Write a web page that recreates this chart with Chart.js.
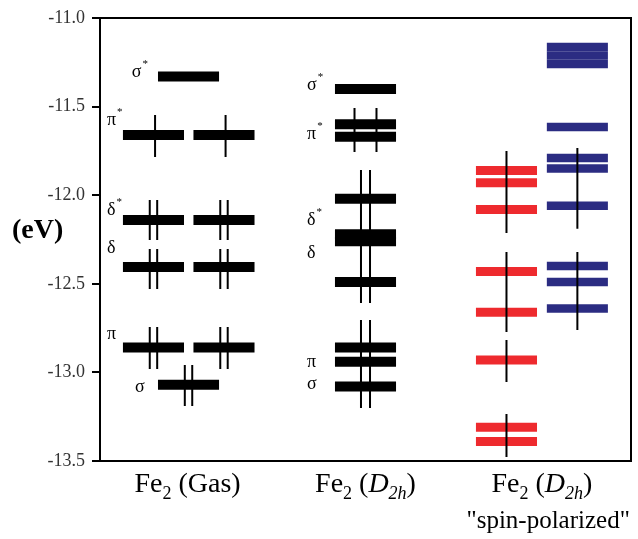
<!DOCTYPE html>
<html>
<head>
<meta charset="utf-8">
<script src="https://cdn.jsdelivr.net/npm/chart.js@4.4.0/dist/chart.umd.min.js"></script>
<style>
  html, body { margin: 0; padding: 0; background: #fff; }
  #wrap { width: 638px; height: 539px; }
</style>
</head>
<body>
<div id="wrap"><canvas id="mo" width="638" height="539"></canvas></div>
<script>
// energy axis (eV)
const yTicks = [-13.5, -13.0, -12.5, -12.0, -11.5, -11.0];

// Fe2 (Gas): levels, whether drawn as a degenerate pair, labels
const gasLevels = [-11.33, -11.66, -12.14, -12.405, -12.86, -13.07];
const gasPaired = [false, true, true, true, true, false];
const gasLabels = ['σ', 'π', 'δ', 'δ', 'π', 'σ'];
const gasStars = [true, true, true, false, false, false];
const gasLabelE = [-11.305, -11.576, -12.083, -12.298, -12.783, -13.082];
// electrons per bar and extent of the spin lines
const gasElectrons = [0, 1, 2, 2, 2, 2];
const gasSpinTop = [null, -11.547, -12.027, -12.304, -12.744, -12.958];
const gasSpinBottom = [null, -11.784, -12.253, -12.529, -12.981, -13.19];

// Fe2 (D2h)
const d2hLevels = [-11.40, -11.60, -11.67, -12.02, -12.22, -12.26, -12.49, -12.86, -12.94, -13.08];
const d2hLabels = ['σ', 'π', 'δ', 'δ', 'π', 'σ'];
const d2hStars = [true, true, true, false, false, false];
const d2hLabelE = [-11.378, -11.655, -12.14, -12.326, -12.94, -13.065];
const d2hSpinTop = [-11.508, -11.858, -12.704];
const d2hSpinBottom = [-11.756, -12.608, -13.201];
const d2hUnpaired = [true, false, false];

// Fe2 (D2h) spin-polarized: alpha (red) and beta (blue)
const alphaLevels = [-11.86, -11.93, -12.08, -12.43, -12.66, -12.93, -13.31, -13.39];
const betaLevels = [-11.164, -11.212, -11.26, -11.615, -11.79, -11.85, -12.06, -12.40, -12.49, -12.64];
const alphaSpinTop = [-11.75, -12.32, -12.817, -13.235];
const alphaSpinBottom = [-12.213, -12.772, -13.054, -13.477];
const betaSpinTop = [-11.734, -12.32];
const betaSpinBottom = [-12.19, -12.761];

// layout (x axis runs 0..10, hidden)
const HALF = 0.575;
const gasX = [1.007, 2.335];
const gasMid = 1.667;
const d2hX = 5.0;
const alphaX = 7.655;
const betaX = 8.99;
const DBL = 0.07;
const RED = '#ee2a2e';
const BLUE = '#2b2c82';
const SERIF = '"Liberation Serif", "Times New Roman", serif';

function bar(x, e, color, w) {
    return {
        data: [{x: x - HALF, y: e}, {x: x + HALF, y: e}],
        borderColor: color, borderWidth: w, borderCapStyle: 'butt',
        pointRadius: 0, order: 2
    };
}

function spin(x, top, bottom) {
    return {
        data: [{x: x, y: top}, {x: x, y: bottom}],
        borderColor: '#000', borderWidth: 2, borderCapStyle: 'butt',
        pointRadius: 0, order: 1
    };
}

const datasets = [];

gasLevels.forEach((e, i) => {
    const xs = gasPaired[i] ? gasX : [gasMid];
    xs.forEach(x => {
        datasets.push(bar(x, e, '#000', 10));
        if (gasElectrons[i] === 1) {
            datasets.push(spin(x + 0.03, gasSpinTop[i], gasSpinBottom[i]));
        } else if (gasElectrons[i] === 2) {
            datasets.push(spin(x - DBL, gasSpinTop[i], gasSpinBottom[i]));
            datasets.push(spin(x + DBL, gasSpinTop[i], gasSpinBottom[i]));
        }
    });
});

d2hLevels.forEach(e => datasets.push(bar(d2hX, e, '#000', 10)));
d2hSpinTop.forEach((t, i) => {
    const off = d2hUnpaired[i] ? 0.207 : 0.085;
    datasets.push(spin(d2hX - off, t, d2hSpinBottom[i]));
    datasets.push(spin(d2hX + off, t, d2hSpinBottom[i]));
});

alphaLevels.forEach(e => datasets.push(bar(alphaX, e, RED, 9)));
betaLevels.forEach(e => datasets.push(bar(betaX, e, BLUE, 8.5)));
alphaSpinTop.forEach((t, i) => datasets.push(spin(alphaX, t, alphaSpinBottom[i])));
betaSpinTop.forEach((t, i) => datasets.push(spin(betaX, t, betaSpinBottom[i])));

// text: orbital labels, column titles, unit, frame
const textPlugin = {
    id: 'moText',
    afterDatasetsDraw(chart) {
        const {ctx, chartArea: a, scales: {x, y}} = chart;
        ctx.save();

        ctx.strokeStyle = '#000';
        ctx.lineWidth = 2;
        ctx.strokeRect(a.left, a.top, a.right - a.left, a.bottom - a.top);

        ctx.fillStyle = '#000';
        ctx.textBaseline = 'middle';
        ctx.textAlign = 'left';

        function greek(sym, star, px, py) {
            ctx.font = '18px ' + SERIF;
            ctx.fillText(sym, px, py);
            if (star) {
                const w = ctx.measureText(sym).width;
                ctx.font = '11px ' + SERIF;
                ctx.fillText('*', px + w + 1, py - 8);
            }
        }
        const gasLabelX = [0.60, 0.13, 0.13, 0.13, 0.13, 0.66];
        gasLabels.forEach((s, i) => greek(s, gasStars[i], x.getPixelForValue(gasLabelX[i]), y.getPixelForValue(gasLabelE[i])));
        d2hLabels.forEach((s, i) => greek(s, d2hStars[i], x.getPixelForValue(3.9), y.getPixelForValue(d2hLabelE[i])));

        // column titles with subscripts
        function title(parts, cx, base) {
            let total = 0;
            parts.forEach(p => { ctx.font = p.f; total += ctx.measureText(p.t).width; });
            let px = cx - total / 2;
            ctx.textBaseline = 'alphabetic';
            parts.forEach(p => {
                ctx.font = p.f;
                ctx.fillText(p.t, px, base + (p.dy || 0));
                px += ctx.measureText(p.t).width;
            });
        }
        const big = '28px ' + SERIF;
        const sub = '18px ' + SERIF;
        const bigI = 'italic 28px ' + SERIF;
        const subI = 'italic 18px ' + SERIF;
        const base = a.bottom + 31;
        title([{t: 'Fe', f: big}, {t: '2', f: sub, dy: 7}, {t: ' (Gas)', f: big}], x.getPixelForValue(gasMid) - 1, base);
        const d2h = [{t: 'Fe', f: big}, {t: '2', f: sub, dy: 7}, {t: ' (', f: big}, {t: 'D', f: bigI},
                     {t: '2h', f: subI, dy: 7}, {t: ')', f: big}];
        title(d2h, x.getPixelForValue(d2hX), base);
        title(d2h, x.getPixelForValue((alphaX + betaX) / 2), base);
        title([{t: '"spin-polarized"', f: '25px ' + SERIF}], x.getPixelForValue(8.44), base + 36);

        ctx.font = 'bold 28px ' + SERIF;
        ctx.textBaseline = 'middle';
        ctx.fillText('(eV)', 12, y.getPixelForValue(-12.2));

        ctx.restore();
    }
};

new Chart(document.getElementById('mo'), {
    type: 'line',
    data: {datasets: datasets},
    options: {
        responsive: false,
        animation: false,
        layout: {padding: {top: 18, right: 7, left: 0, bottom: 0}},
        plugins: {legend: {display: false}, tooltip: {enabled: false}},
        scales: {
            x: {
                type: 'linear', min: 0, max: 10,
                ticks: {display: false},
                grid: {display: false},
                border: {display: true, color: '#000', width: 2},
                afterFit(scale) { scale.height = 78; }
            },
            y: {
                type: 'linear', min: -13.5, max: -11.0,
                afterBuildTicks(scale) { scale.ticks = yTicks.map(v => ({value: v})); },
                ticks: {
                    padding: 7, color: '#333',
                    font: {family: 'Liberation Serif', size: 18},
                    callback: v => v.toFixed(1)
                },
                grid: {drawOnChartArea: false, drawTicks: true, tickLength: 8, color: '#000', lineWidth: 2},
                border: {display: true, color: '#000', width: 2},
                afterFit(scale) { scale.width = 100; }
            }
        }
    },
    plugins: [textPlugin]
});
</script>
</body>
</html>
